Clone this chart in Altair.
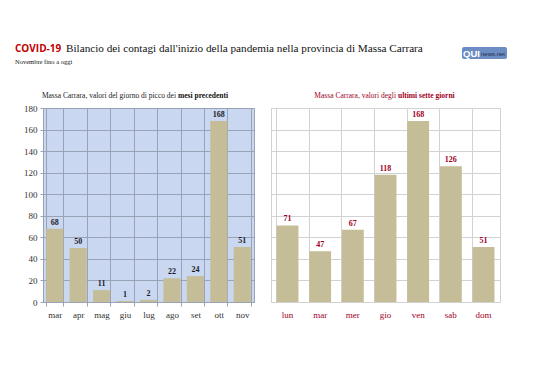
import altair as alt
import pandas as pd

# ---- data ----
months = ["mar", "apr", "mag", "giu", "lug", "ago", "set", "ott", "nov"]
month_vals = [68, 50, 11, 1, 2, 22, 24, 168, 51]
days = ["lun", "mar", "mer", "gio", "ven", "sab", "dom"]
day_vals = [71, 47, 67, 118, 168, 126, 51]
y_ticks = [0, 20, 40, 60, 80, 100, 120, 140, 160, 180]

title_red = ["COVID-19"]
title_main = ["Bilancio dei contagi dall'inizio della pandemia nella provincia di Massa Carrara"]
subtitle = ["Novembre fino a oggi"]
left_sub = ["Massa Carrara, valori del giorno di picco dei", "mesi precedenti"]
right_sub = ["Massa Carrara, valori degli", "ultimi sette giorni"]
logo = ["QUI", "news.net"]

SERIF = "Liberation Serif"
DARKRED = "#A0001E"
BAR = "#C4BD97"

left_df = pd.DataFrame({"m": months, "v": month_vals})
right_df = pd.DataFrame({"d": days, "v": day_vals})

def one(t):
    return pd.DataFrame({"t": [t]})

W1, W2, H = 211, 229, 194

yscale = alt.Scale(domain=[0, 180])

# ---- left panel ----
lbase = alt.Chart(left_df).encode(
    x=alt.X("m:N", sort=months, title=None,
            scale=alt.Scale(paddingInner=0.27, paddingOuter=0.135),
            axis=alt.Axis(labelAngle=0, labelFont=SERIF, labelFontSize=9, labelColor="#333",
                          grid=True, gridColor="#9AA3B5", bandPosition=0, tickBand="extent",
                          domain=False, tickColor="#9AA3B5", tickSize=4, labelPadding=4)),
    y=alt.Y("v:Q", scale=yscale, title=None,
            axis=alt.Axis(values=y_ticks, labelFont=SERIF, labelFontSize=9, labelColor="#333",
                          gridColor="#9AA3B5", domainColor="#9AA3B5", tickColor="#9AA3B5",
                          tickSize=3, labelPadding=3)),
)
lbars = lbase.mark_bar(color=BAR)
ltext = lbase.mark_text(dy=-6, font=SERIF, fontSize=8, fontWeight="bold", color="#1a1a2a").encode(text="v:Q")

t_red = alt.Chart(one(title_red[0])).mark_text(
    align="left", baseline="alphabetic", font="Open Sans", fontWeight="bold", fontSize=10, color="#C00000"
).encode(x=alt.value(-28), y=alt.value(-56), text="t:N")
t_main = alt.Chart(one(title_main[0])).mark_text(
    align="left", baseline="alphabetic", font=SERIF, fontSize=11.2, color="#111"
).encode(x=alt.value(23), y=alt.value(-56), text="t:N")
t_sub = alt.Chart(one(subtitle[0])).mark_text(
    align="left", baseline="alphabetic", font=SERIF, fontSize=6.5, color="#111"
).encode(x=alt.value(-28), y=alt.value(-44), text="t:N")
ls1 = alt.Chart(one(left_sub[0])).mark_text(
    align="right", baseline="alphabetic", font=SERIF, fontSize=7.5, color="#222"
).encode(x=alt.value(133), y=alt.value(-10), text="t:N")
ls2 = alt.Chart(one(left_sub[1])).mark_text(
    align="left", baseline="alphabetic", font=SERIF, fontSize=7.5, fontWeight="bold", color="#111"
).encode(x=alt.value(135), y=alt.value(-10), text="t:N")

left = alt.layer(lbars, ltext, t_red, t_main, t_sub, ls1, ls2).properties(
    width=W1, height=H, view=alt.ViewBackground(fill="#C9D8F0", stroke="#9AA3B5")
)

# ---- right panel ----
rbase = alt.Chart(right_df).encode(
    x=alt.X("d:N", sort=days, title=None,
            scale=alt.Scale(paddingInner=0.33, paddingOuter=0.17),
            axis=alt.Axis(labelAngle=0, labelFont=SERIF, labelFontSize=9, labelColor=DARKRED,
                          grid=True, gridColor="#D2D2D2", bandPosition=0,
                          domain=False, ticks=False, labelPadding=8)),
    y=alt.Y("v:Q", scale=yscale, title=None,
            axis=alt.Axis(values=y_ticks, labels=False, ticks=False, domain=False,
                          gridColor="#D2D2D2")),
)
rbars = rbase.mark_bar(color=BAR)
rtext = rbase.mark_text(dy=-6, font=SERIF, fontSize=8, fontWeight="bold", color=DARKRED).encode(text="v:Q")

rs1 = alt.Chart(one(right_sub[0])).mark_text(
    align="right", baseline="alphabetic", font=SERIF, fontSize=7.5, color=DARKRED
).encode(x=alt.value(125), y=alt.value(-10), text="t:N")
rs2 = alt.Chart(one(right_sub[1])).mark_text(
    align="left", baseline="alphabetic", font=SERIF, fontSize=7.5, fontWeight="bold", color=DARKRED
).encode(x=alt.value(127), y=alt.value(-10), text="t:N")

logo_rect = alt.Chart(one("logo")).mark_rect(color="#6C8CC4", cornerRadius=2).encode(
    x=alt.value(191), x2=alt.value(236), y=alt.value(-61), y2=alt.value(-49))
logo1 = alt.Chart(one(logo[0])).mark_text(
    align="left", baseline="alphabetic", font="Liberation Sans", fontWeight="bold", fontSize=9.5, color="white"
).encode(x=alt.value(192), y=alt.value(-51), text="t:N")
logo2 = alt.Chart(one(logo[1])).mark_text(
    align="left", baseline="alphabetic", font="Liberation Sans", fontSize=6, color="#1d2b4a"
).encode(x=alt.value(210), y=alt.value(-52), text="t:N")

right = alt.layer(rbars, rtext, rs1, rs2, logo_rect, logo1, logo2).properties(
    width=W2, height=H, view=alt.ViewBackground(fill="white", stroke="#D2D2D2")
)

chart = alt.hconcat(left, right, spacing=17, bounds="flush").properties(
    padding={"left": 6, "top": 34, "right": 0, "bottom": 0}, background="white"
).configure_view(strokeWidth=1)

chart.save("out.html", embed_options={"renderer": "svg", "actions": False})
